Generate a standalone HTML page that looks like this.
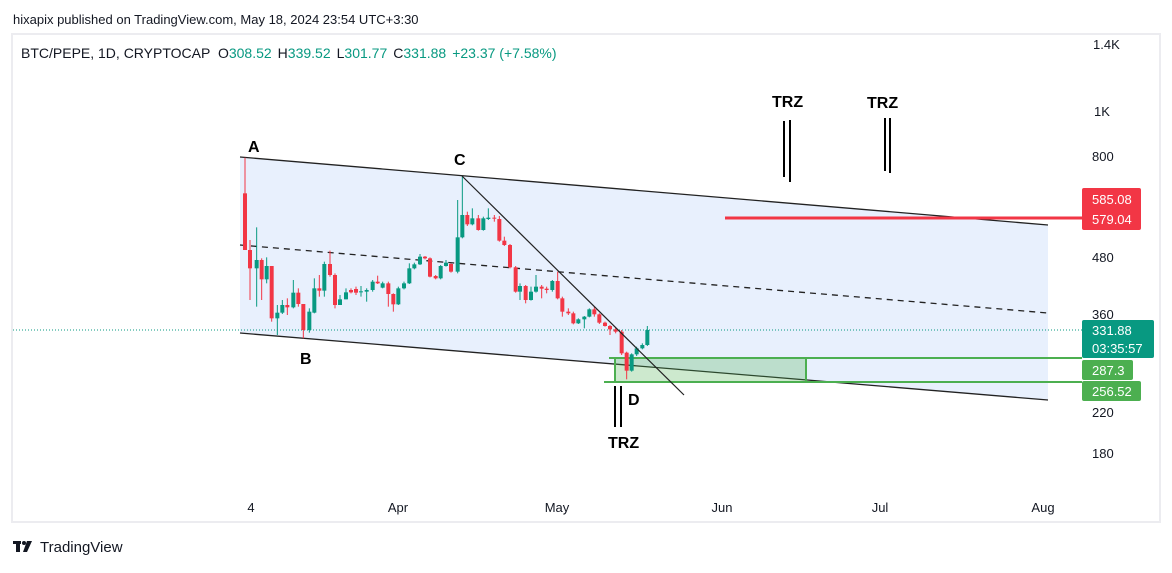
<!DOCTYPE html>
<html><head><meta charset="utf-8"><style>
body{margin:0;background:#fff;width:1172px;height:568px;overflow:hidden;font-family:"Liberation Sans",sans-serif}
</style></head><body>
<svg width="1172" height="568" xmlns="http://www.w3.org/2000/svg" font-family="Liberation Sans, sans-serif">
<rect x="0" y="0" width="1172" height="568" fill="#fff"/>
<text x="13" y="24" font-size="13" fill="#131722">hixapix published on TradingView.com, May 18, 2024 23:54 UTC+3:30</text>
<rect x="12" y="34" width="1148" height="488" fill="none" stroke="#ececf0" stroke-width="2"/>
<text x="21" y="58" font-size="14" fill="#131722">BTC/PEPE, 1D, CRYPTOCAP <tspan dx="4">O</tspan><tspan fill="#089981">308.52</tspan><tspan dx="6">H</tspan><tspan fill="#089981">339.52</tspan><tspan dx="6">L</tspan><tspan fill="#089981">301.77</tspan><tspan dx="6">C</tspan><tspan fill="#089981">331.88</tspan><tspan dx="6" fill="#089981">+23.37 (+7.58%)</tspan></text>
<polygon points="240,157 1048,225 1048,400 240,333" fill="#e8f0fd"/>
<line x1="240" y1="157" x2="1048" y2="225" stroke="#222" stroke-width="1.3"/>
<line x1="240" y1="333" x2="1048" y2="400" stroke="#222" stroke-width="1.3"/>
<line x1="240" y1="245" x2="1048" y2="313" stroke="#222" stroke-width="1.3" stroke-dasharray="6,5"/>
<line x1="13" y1="330" x2="1082" y2="330" stroke="#089981" stroke-width="1" stroke-dasharray="1,2"/>
<rect x="615" y="358" width="191" height="24" fill="rgba(76,175,80,0.28)" stroke="#4caf50" stroke-width="2"/>
<line x1="609" y1="358" x2="1082" y2="358" stroke="#4caf50" stroke-width="2"/>
<line x1="604" y1="382" x2="1082" y2="382" stroke="#4caf50" stroke-width="2"/>
<line x1="725" y1="218" x2="1082" y2="218" stroke="#f23645" stroke-width="3"/>
<g id="candles"></g>
<line x1="462" y1="176" x2="684" y2="395" stroke="#222" stroke-width="1.2"/>
<g font-weight="bold" font-size="16" fill="#000">
<text x="248" y="152">A</text><text x="300" y="364">B</text><text x="454" y="165">C</text><text x="628" y="405">D</text>
<text x="772" y="107">TRZ</text><text x="867" y="108">TRZ</text><text x="608" y="448">TRZ</text>
</g>
<g stroke="#000" stroke-width="2">
<line x1="784" y1="121" x2="784" y2="177"/><line x1="790" y1="120" x2="790" y2="182"/>
<line x1="885" y1="118" x2="885" y2="171"/><line x1="890" y1="118" x2="890" y2="173"/>
<line x1="615" y1="386" x2="615" y2="427"/><line x1="621" y1="386" x2="621" y2="427"/>
</g>
<g font-size="13" fill="#131722">
<text x="1093" y="49">1.4K</text><text x="1094" y="116">1K</text><text x="1092" y="161">800</text>
<text x="1092" y="262">480</text><text x="1092" y="319">360</text><text x="1092" y="417">220</text><text x="1092" y="458">180</text>
</g>
<rect x="1082" y="188" width="59" height="42" rx="2" fill="#f23645"/>
<text x="1092" y="204" font-size="13" fill="#fff">585.08</text><text x="1092" y="224" font-size="13" fill="#fff">579.04</text>
<rect x="1082" y="320" width="72" height="38" rx="2" fill="#089981"/>
<text x="1092" y="335" font-size="13" fill="#fff">331.88</text><text x="1092" y="353" font-size="13" fill="#fff">03:35:57</text>
<rect x="1082" y="360" width="51" height="20" rx="2" fill="#4caf50"/>
<text x="1092" y="375" font-size="13" fill="#fff">287.3</text>
<rect x="1082" y="381" width="59" height="20" rx="2" fill="#4caf50"/>
<text x="1092" y="396" font-size="13" fill="#fff">256.52</text>
<g font-size="13" fill="#131722" text-anchor="middle">
<text x="251" y="512">4</text><text x="398" y="512">Apr</text><text x="557" y="512">May</text><text x="722" y="512">Jun</text><text x="880" y="512">Jul</text><text x="1043" y="512">Aug</text>
</g>
<g fill="#131722"><rect x="13" y="541" width="8" height="3"/><rect x="16" y="541" width="4" height="11"/><circle cx="24" cy="543" r="2"/><polygon points="27,541 32,541 27,552 23,552"/></g>
<text x="40" y="552" font-size="15" fill="#131722">TradingView</text>
</svg>
<script>
var d=[[45,160,330,53,330,'r'],[60,330,385,300,480,'r'],[80,360,385,262,500,'g'],[95,360,418,355,480,'r'],[110,378,418,352,430,'g'],[125,378,535,378,545,'r'],[142,518,535,495,585,'g'],[157,495,518,480,522,'g'],[172,495,502,475,525,'r'],[190,458,502,420,505,'g'],[205,458,492,445,500,'r'],[220,492,570,492,595,'r'],[238,515,570,505,578,'g'],[253,445,518,415,520,'g'],[268,445,452,405,470,'r'],[283,372,452,365,470,'g'],[300,372,405,332,410,'r'],[315,405,495,400,505,'r'],[330,478,495,465,495,'g'],[348,457,478,445,478,'g'],[363,450,457,445,460,'r'],[378,447,458,440,465,'r'],[393,454,456,438,470,'g'],[410,450,455,445,485,'g'],[428,425,450,420,455,'g'],[443,425,430,407,432,'r'],[458,430,443,425,445,'g'],[475,430,462,425,500,'r'],[490,462,493,460,515,'r'],[505,445,493,440,495,'g'],[522,430,445,425,448,'g'],[538,385,430,370,432,'g'],[553,373,385,368,388,'g'],[570,350,373,342,375,'g'],[585,350,355,348,358,'r'],[600,355,410,352,412,'r'],[617,408,415,405,418,'r'],[632,378,415,375,418,'g'],[648,368,378,360,380,'g'],[663,372,395,370,398,'r'],[683,292,395,180,400,'g'],[697,225,292,108,295,'g'],[712,225,253,215,258,'r'],[727,235,253,205,256,'g'],[745,235,270,225,272,'r'],[760,235,270,230,272,'g'],[775,233,237,205,240,'g'],[793,233,236,225,245,'r'],[808,237,302,228,305,'r'],[823,302,315,290,318,'r'],[840,315,382,312,385,'r'],[857,382,455,378,458,'r'],[870,438,455,430,480,'g'],[887,438,480,435,490,'r'],[903,455,480,440,482,'g'],[918,440,455,405,458,'g'],[935,440,446,435,475,'r'],[950,446,450,440,460,'r'],[967,423,450,420,455,'g'],[983,423,475,395,478,'r'],[997,475,515,470,530,'r'],[1015,515,520,505,525,'r'],[1030,520,550,515,553,'r'],[1045,538,550,535,552,'g'],[1063,530,538,528,565,'g'],[1078,508,530,505,532,'g'],[1093,508,523,500,530,'r'],[1108,523,548,520,552,'r'],[1125,548,558,545,560,'r'],[1140,558,568,555,585,'r'],[1157,568,575,562,580,'r'],[1175,575,640,570,645,'r'],[1190,638,692,635,718,'r'],[1205,643,692,640,695,'g'],[1220,625,643,620,648,'g'],[1237,615,625,610,628,'g'],[1252,570,615,558,618,'g']];
var g=document.getElementById('candles'),s='';
d.forEach(function(c){var x=230+c[0]/3,t=140+c[1]/3,b=140+c[2]/3,h=140+c[3]/3,l=140+c[4]/3,col=c[5]=='r'?'#f23645':'#089981';
s+='<line x1="'+x+'" y1="'+h+'" x2="'+x+'" y2="'+l+'" stroke="'+col+'" stroke-width="1"/>';
s+='<rect x="'+(x-2)+'" y="'+t+'" width="4" height="'+Math.max(1,b-t)+'" fill="'+col+'"/>';});
g.innerHTML=s;
</script>
</body></html>
